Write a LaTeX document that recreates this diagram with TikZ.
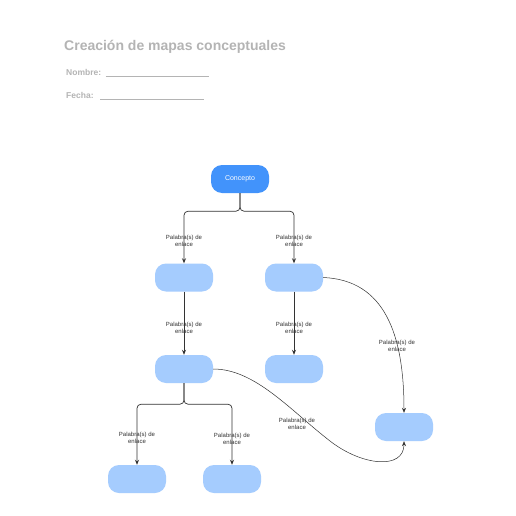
\documentclass[tikz,border=0pt]{standalone}
\usepackage{fontspec}
\setmainfont{Liberation Sans}
\usepackage{tikz}
\usetikzlibrary{arrows.meta, positioning, calc}
\definecolor{concept}{HTML}{4293FB}
\definecolor{idea}{HTML}{A5CCFE}
\definecolor{header}{HTML}{B4B4B4}
\definecolor{dark}{HTML}{333333}
\tikzstyle{mainbox} = [rectangle, rounded corners=11pt, minimum width=58pt,
                       minimum height=28pt, fill=concept, text=white,
                       font=\fontsize{7}{8}\selectfont, inner sep=0pt]
\tikzstyle{ideabox} = [rectangle, rounded corners=11pt, minimum width=58pt,
                       minimum height=28pt, fill=idea, inner sep=0pt]
\tikzstyle{linkword} = [align=center, font=\fontsize{6}{7.2}\selectfont,
                        inner sep=0pt, text=dark]
\tikzstyle{arrow}   = [-{Stealth[length=5pt, width=4pt]}, line width=0.7pt,
                       color=dark]

\begin{document}
\begin{tikzpicture}[x=1pt, y=-1pt]
  \useasboundingbox[fill=white] (0,0) rectangle (516,516);

  %% Header
  \node[anchor=west, text=header, font=\fontsize{14}{16}\selectfont\bfseries,
        inner sep=0pt] (title) at (64,47) {Creación de mapas conceptuales};
  \node[anchor=west, text=header, font=\fontsize{8.5}{10}\selectfont\bfseries,
        inner sep=0pt] (name) at (66,72) {Nombre:};
  \node[anchor=west, text=header, font=\fontsize{8.5}{10}\selectfont\bfseries,
        inner sep=0pt] (date) at (66,95) {Fecha:};
  \draw[header, line width=0.6pt] ($(name.east)+(4.5,4)$) -- ++(103,0);
  \draw[header, line width=0.6pt] ($(date.east)+(6.5,4)$) -- ++(104,0);

  %% Concepts
  \node[mainbox] (top) at (240,179) {Concepto};
  \node[ideabox] (l1a) at (184,277.5) {};
  \node[ideabox] (l1b) at (294,277.5) {};
  \node[ideabox] (l2a) at (184,369) {};
  \node[ideabox] (l2b) at (294,369) {};
  \node[ideabox] (far) at (404,427) {};
  \node[ideabox] (l3a) at (137,479) {};
  \node[ideabox] (l3b) at (232,479) {};

  %% Linking words
  \node[linkword] (w1) at (184,240.5) {Palabra(s) de\\enlace};
  \node[linkword] (w2) at (294,240.5) {Palabra(s) de\\enlace};
  \node[linkword] (w3) at (184,327.5) {Palabra(s) de\\enlace};
  \node[linkword] (w4) at (294,327.5) {Palabra(s) de\\enlace};
  \node[linkword] (w5) at (397,346) {Palabra(s) de\\enlace};
  \node[linkword] (w6) at (137,438) {Palabra(s) de\\enlace};
  \node[linkword] (w7) at (232,438.5) {Palabra(s) de\\enlace};
  \node[linkword] (w8) at (297,424) {Palabra(s) de\\enlace};

  %% Arrows
  \draw[arrow, rounded corners=4pt] (top.south) -- ++(0,18) -| (l1a.north);
  \draw[arrow, rounded corners=4pt] (top.south) -- ++(0,18) -| (l1b.north);
  \draw[arrow] (l1a) -- (l2a);
  \draw[arrow] (l1b) -- (l2b);
  \draw[arrow, rounded corners=4pt] (l2a.south) -- ++(0,21) -| (l3a.north);
  \draw[arrow, rounded corners=4pt] (l2a.south) -- ++(0,21) -| (l3b.north);
  \draw[arrow, line width=0.5pt] (l1b.east) .. controls (385,280) and (404,335) .. (far.north);
  \draw[arrow, line width=0.5pt] (l2a.east) .. controls (255,369) and (290,410) .. (330,441)
        .. controls (362,466) and (404,470) .. (far.south);

\end{tikzpicture}
\end{document}
